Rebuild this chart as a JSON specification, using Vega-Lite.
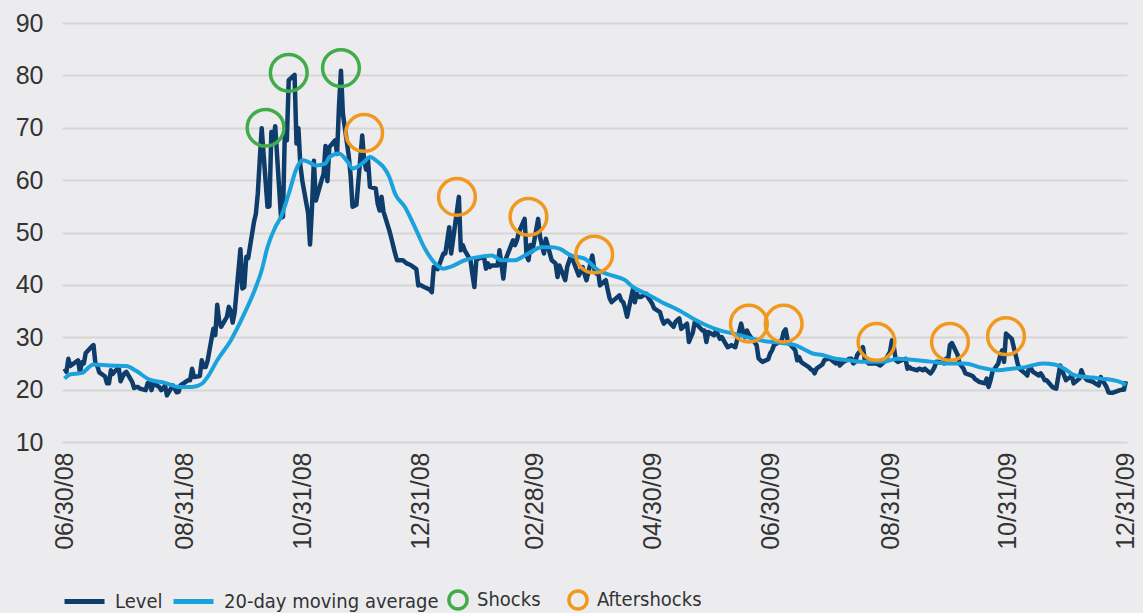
{
  "$schema": "https://vega.github.io/schema/vega-lite/v6.json",
  "width": 1065,
  "height": 419,
  "autosize": {"type": "none"},
  "padding": {"left": 62, "top": 23, "right": 16, "bottom": 171},
  "background": "#ECECEE",
  "config": {
    "view": {"stroke": null},
    "font": "Liberation Sans",
    "legend": {
      "orient": "bottom", "direction": "horizontal", "offset": 29, "padding": 0,
      "labelFont": "DejaVu Sans Condensed, Liberation Sans", "labelFontSize": 20, "labelColor": "#333333",
      "labelOffset": 8, "columnPadding": 20, "labelLimit": 0
    }
  },
  "resolve": {"legend": {"color": "independent"}},
  "datasets": {
    "level": [
      {"date":"2008-06-30","v":24.0},{"date":"2008-07-01","v":23.4},{"date":"2008-07-02","v":25.9},{"date":"2008-07-03","v":24.5},{"date":"2008-07-07","v":25.6},{"date":"2008-07-08","v":23.3},{"date":"2008-07-09","v":25.2},{"date":"2008-07-10","v":25.0},{"date":"2008-07-11","v":27.0},{"date":"2008-07-14","v":28.2},{"date":"2008-07-15","v":28.5},{"date":"2008-07-16","v":25.0},{"date":"2008-07-17","v":24.5},{"date":"2008-07-18","v":23.3},{"date":"2008-07-21","v":22.5},{"date":"2008-07-22","v":21.2},{"date":"2008-07-23","v":21.2},{"date":"2008-07-24","v":23.7},{"date":"2008-07-25","v":23.0},{"date":"2008-07-28","v":24.3},{"date":"2008-07-29","v":21.6},{"date":"2008-07-30","v":22.4},{"date":"2008-07-31","v":23.1},
      {"date":"2008-08-01","v":23.4},{"date":"2008-08-04","v":21.5},{"date":"2008-08-05","v":20.3},{"date":"2008-08-06","v":20.5},{"date":"2008-08-07","v":20.5},{"date":"2008-08-08","v":20.2},{"date":"2008-08-11","v":19.9},{"date":"2008-08-12","v":21.2},{"date":"2008-08-13","v":21.5},{"date":"2008-08-14","v":19.9},{"date":"2008-08-15","v":21.2},{"date":"2008-08-18","v":20.5},{"date":"2008-08-19","v":19.9},{"date":"2008-08-20","v":20.2},{"date":"2008-08-21","v":20.8},{"date":"2008-08-22","v":18.9},{"date":"2008-08-25","v":20.8},{"date":"2008-08-26","v":20.2},{"date":"2008-08-27","v":19.5},{"date":"2008-08-28","v":19.6},{"date":"2008-08-29","v":20.8},
      {"date":"2008-09-02","v":21.8},{"date":"2008-09-03","v":21.8},{"date":"2008-09-04","v":24.0},{"date":"2008-09-05","v":22.4},{"date":"2008-09-08","v":22.6},{"date":"2008-09-09","v":25.6},{"date":"2008-09-10","v":24.3},{"date":"2008-09-11","v":24.3},{"date":"2008-09-12","v":25.5},{"date":"2008-09-15","v":31.6},{"date":"2008-09-16","v":30.4},{"date":"2008-09-17","v":36.2},{"date":"2008-09-18","v":33.1},{"date":"2008-09-19","v":32.0},{"date":"2008-09-22","v":33.9},{"date":"2008-09-23","v":35.8},{"date":"2008-09-24","v":35.0},{"date":"2008-09-25","v":32.8},{"date":"2008-09-26","v":34.7},{"date":"2008-09-29","v":46.8},{"date":"2008-09-30","v":39.3},
      {"date":"2008-10-01","v":39.6},{"date":"2008-10-02","v":45.3},{"date":"2008-10-03","v":45.1},{"date":"2008-10-06","v":52.0},{"date":"2008-10-07","v":53.6},{"date":"2008-10-08","v":57.5},{"date":"2008-10-09","v":63.9},{"date":"2008-10-10","v":69.9},{"date":"2008-10-13","v":54.9},{"date":"2008-10-14","v":55.0},{"date":"2008-10-15","v":69.2},{"date":"2008-10-16","v":67.6},{"date":"2008-10-17","v":70.3},{"date":"2008-10-20","v":52.8},{"date":"2008-10-21","v":53.0},{"date":"2008-10-22","v":69.7},{"date":"2008-10-23","v":67.6},{"date":"2008-10-24","v":79.1},{"date":"2008-10-27","v":80.1},{"date":"2008-10-28","v":67.0},{"date":"2008-10-29","v":69.9},{"date":"2008-10-30","v":62.9},{"date":"2008-10-31","v":59.9},
      {"date":"2008-11-03","v":53.7},{"date":"2008-11-04","v":47.7},{"date":"2008-11-05","v":54.6},{"date":"2008-11-06","v":63.7},{"date":"2008-11-07","v":56.1},{"date":"2008-11-10","v":60.0},{"date":"2008-11-11","v":61.2},{"date":"2008-11-12","v":66.5},{"date":"2008-11-13","v":59.8},{"date":"2008-11-14","v":66.3},{"date":"2008-11-17","v":67.6},{"date":"2008-11-18","v":65.0},{"date":"2008-11-19","v":74.3},{"date":"2008-11-20","v":80.9},{"date":"2008-11-21","v":72.7},{"date":"2008-11-24","v":64.7},{"date":"2008-11-25","v":60.9},{"date":"2008-11-26","v":54.9},{"date":"2008-11-28","v":55.3},
      {"date":"2008-12-01","v":68.5},{"date":"2008-12-02","v":63.8},{"date":"2008-12-03","v":62.0},{"date":"2008-12-04","v":63.8},{"date":"2008-12-05","v":58.7},{"date":"2008-12-08","v":58.4},{"date":"2008-12-09","v":55.5},{"date":"2008-12-10","v":54.2},{"date":"2008-12-11","v":56.8},{"date":"2008-12-12","v":54.0},{"date":"2008-12-15","v":50.4},{"date":"2008-12-16","v":49.0},{"date":"2008-12-17","v":47.5},{"date":"2008-12-18","v":46.0},{"date":"2008-12-19","v":44.7},{"date":"2008-12-22","v":44.7},{"date":"2008-12-23","v":44.4},{"date":"2008-12-24","v":44.1},{"date":"2008-12-26","v":43.8},{"date":"2008-12-29","v":43.0},{"date":"2008-12-30","v":39.9},{"date":"2008-12-31","v":40.0},
      {"date":"2009-01-02","v":39.6},{"date":"2009-01-05","v":39.1},{"date":"2009-01-06","v":38.6},{"date":"2009-01-07","v":43.4},{"date":"2009-01-08","v":43.1},{"date":"2009-01-09","v":43.0},{"date":"2009-01-12","v":46.0},{"date":"2009-01-13","v":46.0},{"date":"2009-01-14","v":48.5},{"date":"2009-01-15","v":51.0},{"date":"2009-01-16","v":46.0},{"date":"2009-01-20","v":56.8},{"date":"2009-01-21","v":46.6},{"date":"2009-01-22","v":47.6},{"date":"2009-01-23","v":46.6},{"date":"2009-01-26","v":44.7},{"date":"2009-01-27","v":42.0},{"date":"2009-01-28","v":39.6},{"date":"2009-01-29","v":44.7},{"date":"2009-01-30","v":45.0},
      {"date":"2009-02-02","v":45.3},{"date":"2009-02-03","v":43.1},{"date":"2009-02-04","v":44.1},{"date":"2009-02-05","v":43.4},{"date":"2009-02-06","v":43.7},{"date":"2009-02-09","v":43.7},{"date":"2009-02-10","v":46.6},{"date":"2009-02-11","v":44.0},{"date":"2009-02-12","v":41.2},{"date":"2009-02-13","v":44.7},{"date":"2009-02-17","v":48.5},{"date":"2009-02-18","v":47.6},{"date":"2009-02-19","v":48.5},{"date":"2009-02-20","v":50.0},{"date":"2009-02-23","v":52.6},{"date":"2009-02-24","v":45.6},{"date":"2009-02-25","v":44.7},{"date":"2009-02-26","v":47.6},{"date":"2009-02-27","v":46.4},
      {"date":"2009-03-02","v":52.6},{"date":"2009-03-03","v":49.1},{"date":"2009-03-04","v":47.5},{"date":"2009-03-05","v":46.0},{"date":"2009-03-06","v":48.8},{"date":"2009-03-09","v":44.7},{"date":"2009-03-10","v":44.4},{"date":"2009-03-11","v":44.1},{"date":"2009-03-12","v":41.5},{"date":"2009-03-13","v":43.7},{"date":"2009-03-16","v":40.9},{"date":"2009-03-17","v":43.4},{"date":"2009-03-18","v":44.5},{"date":"2009-03-19","v":45.6},{"date":"2009-03-20","v":44.7},{"date":"2009-03-23","v":41.8},{"date":"2009-03-24","v":42.5},{"date":"2009-03-25","v":43.4},{"date":"2009-03-26","v":42.0},{"date":"2009-03-27","v":40.9},{"date":"2009-03-30","v":45.6},{"date":"2009-03-31","v":43.1},
      {"date":"2009-04-01","v":42.2},{"date":"2009-04-02","v":42.5},{"date":"2009-04-03","v":39.9},{"date":"2009-04-06","v":40.9},{"date":"2009-04-07","v":39.0},{"date":"2009-04-08","v":37.4},{"date":"2009-04-09","v":36.7},{"date":"2009-04-13","v":38.0},{"date":"2009-04-14","v":37.0},{"date":"2009-04-15","v":36.7},{"date":"2009-04-16","v":35.5},{"date":"2009-04-17","v":33.9},{"date":"2009-04-20","v":39.1},{"date":"2009-04-21","v":36.7},{"date":"2009-04-22","v":38.3},{"date":"2009-04-23","v":37.7},{"date":"2009-04-24","v":37.7},{"date":"2009-04-27","v":38.3},{"date":"2009-04-28","v":37.5},{"date":"2009-04-29","v":37.0},{"date":"2009-04-30","v":36.4},
      {"date":"2009-05-01","v":35.5},{"date":"2009-05-04","v":34.8},{"date":"2009-05-05","v":33.5},{"date":"2009-05-06","v":32.6},{"date":"2009-05-07","v":33.0},{"date":"2009-05-08","v":33.2},{"date":"2009-05-11","v":32.0},{"date":"2009-05-12","v":32.9},{"date":"2009-05-13","v":33.3},{"date":"2009-05-14","v":33.6},{"date":"2009-05-15","v":31.6},{"date":"2009-05-18","v":32.6},{"date":"2009-05-19","v":29.1},{"date":"2009-05-20","v":30.0},{"date":"2009-05-21","v":30.9},{"date":"2009-05-22","v":32.9},{"date":"2009-05-26","v":31.3},{"date":"2009-05-27","v":31.3},{"date":"2009-05-28","v":29.1},{"date":"2009-05-29","v":31.0},
      {"date":"2009-06-01","v":30.4},{"date":"2009-06-02","v":31.3},{"date":"2009-06-03","v":30.5},{"date":"2009-06-04","v":29.7},{"date":"2009-06-05","v":30.0},{"date":"2009-06-08","v":28.1},{"date":"2009-06-09","v":28.3},{"date":"2009-06-10","v":28.5},{"date":"2009-06-11","v":28.3},{"date":"2009-06-12","v":28.1},{"date":"2009-06-15","v":32.6},{"date":"2009-06-16","v":31.0},{"date":"2009-06-17","v":30.0},{"date":"2009-06-18","v":31.3},{"date":"2009-06-19","v":30.5},{"date":"2009-06-22","v":29.0},{"date":"2009-06-23","v":28.5},{"date":"2009-06-24","v":26.0},{"date":"2009-06-25","v":25.6},{"date":"2009-06-26","v":25.3},{"date":"2009-06-29","v":25.8},{"date":"2009-06-30","v":26.9},
      {"date":"2009-07-01","v":27.5},{"date":"2009-07-02","v":28.5},{"date":"2009-07-06","v":29.4},{"date":"2009-07-07","v":31.0},{"date":"2009-07-08","v":31.5},{"date":"2009-07-09","v":29.5},{"date":"2009-07-10","v":28.8},{"date":"2009-07-13","v":27.5},{"date":"2009-07-14","v":25.6},{"date":"2009-07-15","v":26.2},{"date":"2009-07-16","v":25.3},{"date":"2009-07-17","v":25.0},{"date":"2009-07-20","v":24.3},{"date":"2009-07-21","v":23.9},{"date":"2009-07-22","v":23.7},{"date":"2009-07-23","v":23.1},{"date":"2009-07-24","v":24.0},{"date":"2009-07-27","v":24.8},{"date":"2009-07-28","v":25.6},{"date":"2009-07-29","v":25.8},{"date":"2009-07-30","v":25.9},{"date":"2009-07-31","v":25.9},
      {"date":"2009-08-03","v":25.0},{"date":"2009-08-04","v":25.6},{"date":"2009-08-05","v":24.6},{"date":"2009-08-06","v":25.0},{"date":"2009-08-07","v":25.3},{"date":"2009-08-10","v":25.9},{"date":"2009-08-11","v":25.9},{"date":"2009-08-12","v":25.0},{"date":"2009-08-13","v":25.3},{"date":"2009-08-14","v":26.6},{"date":"2009-08-17","v":28.1},{"date":"2009-08-18","v":25.6},{"date":"2009-08-19","v":25.3},{"date":"2009-08-20","v":25.0},{"date":"2009-08-21","v":25.0},{"date":"2009-08-24","v":25.0},{"date":"2009-08-25","v":24.8},{"date":"2009-08-26","v":24.6},{"date":"2009-08-27","v":25.0},{"date":"2009-08-28","v":25.3},{"date":"2009-08-31","v":27.2},
      {"date":"2009-09-01","v":29.4},{"date":"2009-09-02","v":28.1},{"date":"2009-09-03","v":25.6},{"date":"2009-09-04","v":25.3},{"date":"2009-09-08","v":25.9},{"date":"2009-09-09","v":24.0},{"date":"2009-09-10","v":24.3},{"date":"2009-09-11","v":24.0},{"date":"2009-09-14","v":23.7},{"date":"2009-09-15","v":24.0},{"date":"2009-09-16","v":23.9},{"date":"2009-09-17","v":23.7},{"date":"2009-09-18","v":24.0},{"date":"2009-09-21","v":23.1},{"date":"2009-09-22","v":23.6},{"date":"2009-09-23","v":24.3},{"date":"2009-09-24","v":25.3},{"date":"2009-09-25","v":25.3},{"date":"2009-09-28","v":25.0},{"date":"2009-09-29","v":25.9},{"date":"2009-09-30","v":25.6},
      {"date":"2009-10-01","v":28.5},{"date":"2009-10-02","v":28.9},{"date":"2009-10-05","v":26.6},{"date":"2009-10-06","v":25.0},{"date":"2009-10-07","v":24.5},{"date":"2009-10-08","v":24.0},{"date":"2009-10-09","v":23.1},{"date":"2009-10-12","v":22.7},{"date":"2009-10-13","v":22.5},{"date":"2009-10-14","v":22.0},{"date":"2009-10-15","v":21.8},{"date":"2009-10-16","v":21.5},{"date":"2009-10-19","v":21.2},{"date":"2009-10-20","v":22.1},{"date":"2009-10-21","v":20.5},{"date":"2009-10-22","v":21.8},{"date":"2009-10-23","v":23.4},{"date":"2009-10-26","v":25.0},{"date":"2009-10-27","v":26.5},{"date":"2009-10-28","v":27.5},{"date":"2009-10-29","v":25.3},{"date":"2009-10-30","v":30.7},
      {"date":"2009-11-02","v":29.7},{"date":"2009-11-03","v":28.1},{"date":"2009-11-04","v":26.6},{"date":"2009-11-05","v":25.0},{"date":"2009-11-06","v":24.0},{"date":"2009-11-09","v":23.1},{"date":"2009-11-10","v":22.7},{"date":"2009-11-11","v":24.3},{"date":"2009-11-12","v":24.0},{"date":"2009-11-13","v":23.4},{"date":"2009-11-16","v":22.7},{"date":"2009-11-17","v":23.1},{"date":"2009-11-18","v":22.5},{"date":"2009-11-19","v":21.8},{"date":"2009-11-20","v":21.8},{"date":"2009-11-23","v":20.5},{"date":"2009-11-24","v":20.3},{"date":"2009-11-25","v":20.2},{"date":"2009-11-27","v":24.6},{"date":"2009-11-30","v":21.8},
      {"date":"2009-12-01","v":22.1},{"date":"2009-12-02","v":22.3},{"date":"2009-12-03","v":22.7},{"date":"2009-12-04","v":21.2},{"date":"2009-12-07","v":22.1},{"date":"2009-12-08","v":23.7},{"date":"2009-12-09","v":22.7},{"date":"2009-12-10","v":22.2},{"date":"2009-12-11","v":21.8},{"date":"2009-12-14","v":21.5},{"date":"2009-12-15","v":21.2},{"date":"2009-12-16","v":21.0},{"date":"2009-12-17","v":20.8},{"date":"2009-12-18","v":22.4},{"date":"2009-12-21","v":20.5},{"date":"2009-12-22","v":19.5},{"date":"2009-12-23","v":19.4},{"date":"2009-12-24","v":19.4},{"date":"2009-12-28","v":19.9},{"date":"2009-12-29","v":20.0},{"date":"2009-12-30","v":20.0},{"date":"2009-12-31","v":21.6}
    ],
    "ma": [
      {"date":"2008-06-30","v":22.1},{"date":"2008-07-03","v":22.9},{"date":"2008-07-09","v":23.2},{"date":"2008-07-15","v":24.8},{"date":"2008-07-23","v":24.6},{"date":"2008-08-01","v":24.5},{"date":"2008-08-06","v":23.6},{"date":"2008-08-13","v":21.9},{"date":"2008-08-21","v":21.3},{"date":"2008-08-28","v":20.5},{"date":"2008-09-04","v":20.5},{"date":"2008-09-09","v":21.1},{"date":"2008-09-12","v":22.4},{"date":"2008-09-17","v":25.6},{"date":"2008-09-24","v":29.4},{"date":"2008-10-01","v":34.5},{"date":"2008-10-07","v":39.6},{"date":"2008-10-10","v":42.8},{"date":"2008-10-13","v":47.2},{"date":"2008-10-17","v":51.0},{"date":"2008-10-20","v":53.0},{"date":"2008-10-24","v":57.4},{"date":"2008-10-28","v":62.2},{"date":"2008-10-31","v":63.8},{"date":"2008-11-03","v":63.5},{"date":"2008-11-07","v":62.8},{"date":"2008-11-12","v":63.2},{"date":"2008-11-14","v":64.4},{"date":"2008-11-19","v":65.1},{"date":"2008-11-24","v":63.2},{"date":"2008-11-26","v":62.2},{"date":"2008-12-02","v":63.5},{"date":"2008-12-05","v":64.4},{"date":"2008-12-09","v":63.5},{"date":"2008-12-12","v":62.5},{"date":"2008-12-15","v":60.6},{"date":"2008-12-18","v":57.4},{"date":"2008-12-23","v":54.9},{"date":"2008-12-29","v":50.4},
      {"date":"2009-01-02","v":47.2},{"date":"2009-01-07","v":44.4},{"date":"2009-01-12","v":43.1},{"date":"2009-01-16","v":43.5},{"date":"2009-01-23","v":44.7},{"date":"2009-01-30","v":45.3},{"date":"2009-02-06","v":45.6},{"date":"2009-02-11","v":44.7},{"date":"2009-02-18","v":44.7},{"date":"2009-02-23","v":45.6},{"date":"2009-03-04","v":47.2},{"date":"2009-03-09","v":47.2},{"date":"2009-03-13","v":46.9},{"date":"2009-03-19","v":45.6},{"date":"2009-03-26","v":45.0},{"date":"2009-04-02","v":42.8},{"date":"2009-04-09","v":41.8},{"date":"2009-04-16","v":40.9},{"date":"2009-04-20","v":39.6},{"date":"2009-04-27","v":38.3},{"date":"2009-05-05","v":36.7},{"date":"2009-05-14","v":35.1},{"date":"2009-05-21","v":33.6},{"date":"2009-05-28","v":32.3},{"date":"2009-06-04","v":31.3},{"date":"2009-06-11","v":30.7},{"date":"2009-06-18","v":30.0},{"date":"2009-06-25","v":29.4},{"date":"2009-07-06","v":28.9},{"date":"2009-07-13","v":28.5},{"date":"2009-07-17","v":27.8},{"date":"2009-07-22","v":26.9},{"date":"2009-07-27","v":26.6},{"date":"2009-08-03","v":25.9},{"date":"2009-08-10","v":25.6},{"date":"2009-08-18","v":25.3},{"date":"2009-08-27","v":25.3},{"date":"2009-09-04","v":25.9},{"date":"2009-09-14","v":25.6},{"date":"2009-09-22","v":25.3},{"date":"2009-09-30","v":25.0},{"date":"2009-10-09","v":25.0},{"date":"2009-10-16","v":24.3},{"date":"2009-10-26","v":23.7},{"date":"2009-11-02","v":24.0},{"date":"2009-11-09","v":24.3},{"date":"2009-11-18","v":25.0},{"date":"2009-11-24","v":24.8},{"date":"2009-11-30","v":23.8},{"date":"2009-12-03","v":23.0},{"date":"2009-12-08","v":22.5},{"date":"2009-12-14","v":22.3},{"date":"2009-12-18","v":22.1},{"date":"2009-12-23","v":21.9},{"date":"2009-12-29","v":21.3},{"date":"2009-12-31","v":20.9}
    ],
    "ann": [
      {"date":"2008-10-12","v":70.0,"series":"Shocks"},
      {"date":"2008-10-24","v":80.5,"series":"Shocks"},
      {"date":"2008-11-20","v":81.4,"series":"Shocks"},
      {"date":"2008-12-02","v":69.0,"series":"Aftershocks"},
      {"date":"2009-01-19","v":56.8,"series":"Aftershocks"},
      {"date":"2009-02-25","v":53.0,"series":"Aftershocks"},
      {"date":"2009-03-31","v":45.8,"series":"Aftershocks"},
      {"date":"2009-06-19","v":32.6,"series":"Aftershocks"},
      {"date":"2009-07-07","v":32.6,"series":"Aftershocks"},
      {"date":"2009-08-24","v":29.1,"series":"Aftershocks"},
      {"date":"2009-10-01","v":29.1,"series":"Aftershocks"},
      {"date":"2009-10-30","v":30.2,"series":"Aftershocks"}
    ]
  },
  "encoding": {
    "x": {
      "field": "date", "type": "temporal",
      "scale": {"type": "utc", "domain": [{"year": 2008, "month": 6, "date": 28, "hours": 17, "utc": true}, {"year": 2009, "month": 12, "date": 31, "hours": 14, "utc": true}]},
      "axis": {
        "title": null, "grid": false, "domain": false, "ticks": false,
        "labelAngle": -90, "labelFontSize": 25, "labelColor": "#333333", "labelPadding": 10,
        "labelFlush": false, "labelOverlap": false,
        "labelExpr": "utcFormat(datum.value, '%m/%d/%y')",
        "values": [
          {"year": 2008, "month": 6, "date": 30, "utc": true},
          {"year": 2008, "month": 8, "date": 31, "utc": true},
          {"year": 2008, "month": 10, "date": 31, "utc": true},
          {"year": 2008, "month": 12, "date": 31, "utc": true},
          {"year": 2009, "month": 2, "date": 28, "utc": true},
          {"year": 2009, "month": 4, "date": 30, "utc": true},
          {"year": 2009, "month": 6, "date": 30, "utc": true},
          {"year": 2009, "month": 8, "date": 31, "utc": true},
          {"year": 2009, "month": 10, "date": 31, "utc": true},
          {"year": 2009, "month": 12, "date": 31, "utc": true}
        ]
      }
    },
    "y": {
      "field": "v", "type": "quantitative",
      "scale": {"domain": [10, 90], "nice": false, "zero": false},
      "axis": {
        "title": null, "values": [10, 20, 30, 40, 50, 60, 70, 80, 90],
        "grid": true, "gridColor": "#D6D6D6", "gridWidth": 2,
        "domain": false, "ticks": false,
        "labelFontSize": 25, "labelColor": "#333333", "labelPadding": 19
      }
    }
  },
  "layer": [
    {
      "data": {"name": "level"},
      "mark": {"type": "line", "strokeWidth": 4.5, "strokeJoin": "round"},
      "encoding": {
        "color": {"datum": "Level", "type": "nominal",
          "scale": {"domain": ["Level", "20-day moving average", "Shocks", "Aftershocks"], "range": ["#0F3D6B", "#1BA1DC", "#43AC4A", "#F0991E"]},
          "legend": {"values": ["Level"], "symbolType": "stroke", "symbolSize": 1600, "symbolStrokeWidth": 5, "title": null}}
      }
    },
    {
      "data": {"name": "ma"},
      "mark": {"type": "line", "strokeWidth": 4, "interpolate": "monotone", "strokeJoin": "round"},
      "encoding": {
        "color": {"datum": "20-day moving average", "type": "nominal",
          "legend": {"values": ["20-day moving average"], "symbolType": "stroke", "symbolSize": 1600, "symbolStrokeWidth": 5, "title": null}}
      }
    },
    {
      "data": {"name": "ann"},
      "mark": {"type": "point", "shape": "circle", "filled": false, "size": 1350, "strokeWidth": 3.5, "opacity": 1},
      "encoding": {
        "color": {
          "field": "series", "type": "nominal",
          "legend": {"values": ["Shocks", "Aftershocks"], "symbolType": "circle", "symbolSize": 330, "symbolStrokeWidth": 3.5,
            "title": " ", "titleFontSize": 2, "titlePadding": 7.5}
        }
      }
    }
  ]
}
